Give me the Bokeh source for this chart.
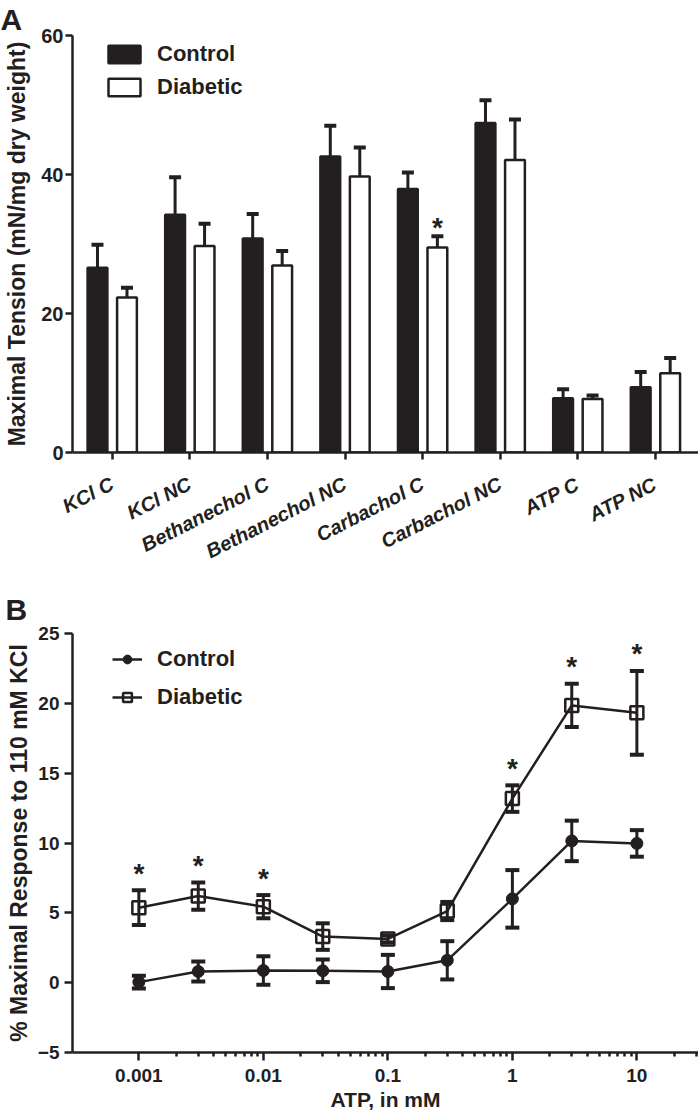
import math
from bokeh.plotting import figure
from bokeh.layouts import column
from bokeh.models import (Range1d, FixedTicker, Whisker, TeeHead, ColumnDataSource,
                          Legend, LegendItem, Title, CustomJSTickFormatter)
from bokeh.embed import file_html
from bokeh.resources import INLINE

INK = "#231f20"
FONT = "Liberation Sans"

# ---------------- Panel A data ----------------
categories = ["KCl C", "KCl NC", "Bethanechol C", "Bethanechol NC",
              "Carbachol C", "Carbachol NC", "ATP C", "ATP NC"]
control_mean = [26.6, 34.2, 30.8, 42.6, 37.9, 47.4, 7.8, 9.4]
control_sem = [3.3, 5.4, 3.5, 4.4, 2.4, 3.3, 1.3, 2.2]
diabetic_mean = [22.3, 29.7, 26.9, 39.7, 29.5, 42.1, 7.7, 11.4]
diabetic_sem = [1.4, 3.2, 2.1, 4.2, 1.6, 5.8, 0.5, 2.2]
diabetic_sig_a = [False, False, False, False, True, False, False, False]
tension_ticks = [0, 20, 40, 60]

# ---------------- Panel B data ----------------
atp_mM = [0.001, 0.003, 0.01, 0.03, 0.1, 0.3, 1, 3, 10]
control_resp = [0.04, 0.8, 0.87, 0.85, 0.8, 1.6, 6.0, 10.15, 9.97]
control_resp_sem = [0.45, 0.71, 1.02, 0.81, 1.19, 1.37, 2.06, 1.45, 0.95]
diabetic_resp = [5.37, 6.2, 5.44, 3.3, 3.13, 5.13, 13.18, 19.85, 19.32]
diabetic_resp_sem = [1.24, 0.98, 0.83, 0.95, 0.25, 0.65, 0.95, 1.55, 3.0]
diabetic_sig_b = [True, True, True, False, False, False, True, True, True]
atp_major_ticks = [0.001, 0.01, 0.1, 1, 10]
response_ticks = [-5, 0, 5, 10, 15, 20, 25]

W = 698
HA = 580
HB = 536


def style_axes(p, tick_font):
    p.outline_line_color = None
    p.xgrid.visible = False
    p.ygrid.visible = False
    p.background_fill_color = "white"
    p.border_fill_color = "white"
    for ax in (p.xaxis[0], p.yaxis[0]):
        ax.axis_line_color = INK
        ax.axis_line_width = 2.5
        ax.major_tick_line_color = INK
        ax.major_tick_line_width = 2.5
        ax.major_tick_in = 0
        ax.major_tick_out = 7
        ax.minor_tick_line_color = INK
        ax.minor_tick_line_width = 2.5
        ax.minor_tick_in = 0
        ax.minor_tick_out = 4
        ax.major_label_text_font = FONT
        ax.major_label_text_font_style = "bold"
        ax.major_label_text_font_size = tick_font
        ax.major_label_text_color = INK
        ax.axis_label_text_font = FONT
        ax.axis_label_text_font_style = "bold"
        ax.axis_label_text_color = INK


def panel_letter(letter, offset, standoff):
    return Title(text=letter, align="left", offset=offset, standoff=standoff,
                 text_font=FONT, text_font_style="bold", text_font_size="30px",
                 text_color=INK)


# ================= Panel A =================
pa = figure(width=W, height=HA, x_range=Range1d(-0.012, 8.055), y_range=Range1d(0, 60),
            output_backend="svg", toolbar_location=None,
            title=panel_letter("A", -72, 0),
            min_border_left=72, min_border_right=0, min_border_top=35, min_border_bottom=128)
style_axes(pa, "20px")

idx = list(range(len(categories)))
ctrl_x = [i + 0.5 - 0.19 for i in idx]
diab_x = [i + 0.5 + 0.19 for i in idx]

src_c = ColumnDataSource(dict(x=ctrl_x, top=control_mean,
                              upper=[m + s for m, s in zip(control_mean, control_sem)]))
src_d = ColumnDataSource(dict(x=diab_x, top=diabetic_mean,
                              upper=[m + s for m, s in zip(diabetic_mean, diabetic_sem)]))

for src in (src_c, src_d):
    pa.add_layout(Whisker(source=src, base="x", lower="top", upper="upper",
                          line_color=INK, line_width=3,
                          upper_head=TeeHead(size=12, line_width=4, line_color=INK),
                          lower_head=None))

r_c = pa.vbar(x="x", top="top", bottom=0, width=0.255, source=src_c,
              fill_color=INK, line_color=INK, line_width=2.5)
r_d = pa.vbar(x="x", top="top", bottom=0, width=0.255, source=src_d,
              fill_color="white", line_color=INK, line_width=2.5)

sig_a = ColumnDataSource(dict(
    x=[diab_x[i] for i in idx if diabetic_sig_a[i]],
    y=[diabetic_mean[i] + diabetic_sem[i] for i in idx if diabetic_sig_a[i]],
    t=["*" for i in idx if diabetic_sig_a[i]]))
pa.text(x="x", y="y", text="t", source=sig_a, text_align="center", text_baseline="middle",
        y_offset=-9, text_font_size="28px", text_font_style="bold", text_color=INK,
        text_font={"value": FONT})

pa.xaxis.ticker = FixedTicker(ticks=[i + 0.5 for i in idx])
pa.xaxis.major_label_overrides = {i + 0.5: c for i, c in zip(idx, categories)}
pa.xaxis.major_label_orientation = math.radians(27)
pa.xaxis.major_label_text_font_style = "bold italic"
pa.xaxis.major_label_standoff = 23
pa.yaxis.ticker = FixedTicker(ticks=tension_ticks)
pa.yaxis.major_label_standoff = 2
pa.yaxis.axis_label = "Maximal Tension (mN/mg dry weight)"
pa.yaxis.axis_label_text_font_size = "23px"
pa.yaxis.axis_label_standoff = 8

legA = Legend(items=[LegendItem(label="Control", renderers=[r_c]),
                     LegendItem(label="Diabetic", renderers=[r_d])],
              location=(32, 352), padding=0, margin=0, spacing=7,
              glyph_width=40, glyph_height=22, label_standoff=13,
              border_line_color=None, background_fill_alpha=0,
              label_text_font=FONT, label_text_font_style="bold",
              label_text_font_size="22px", label_text_color=INK)
pa.add_layout(legA)

# ================= Panel B =================
pb = figure(width=W, height=HB, x_axis_type="log",
            x_range=Range1d(10 ** -3.533, 10 ** 1.495), y_range=Range1d(-5, 25),
            output_backend="svg", toolbar_location=None,
            title=panel_letter("B", -67, 15),
            min_border_left=68, min_border_right=0, min_border_top=53, min_border_bottom=64)
style_axes(pb, "19px")

src_bc = ColumnDataSource(dict(x=atp_mM, y=control_resp,
                               lo=[m - s for m, s in zip(control_resp, control_resp_sem)],
                               hi=[m + s for m, s in zip(control_resp, control_resp_sem)]))
src_bd = ColumnDataSource(dict(x=atp_mM, y=diabetic_resp,
                               lo=[m - s for m, s in zip(diabetic_resp, diabetic_resp_sem)],
                               hi=[m + s for m, s in zip(diabetic_resp, diabetic_resp_sem)]))

for src in (src_bc, src_bd):
    pb.add_layout(Whisker(source=src, base="x", lower="lo", upper="hi",
                          line_color=INK, line_width=3,
                          upper_head=TeeHead(size=14, line_width=4, line_color=INK),
                          lower_head=TeeHead(size=14, line_width=4, line_color=INK)))

l_c = pb.line(x="x", y="y", source=src_bc, line_color=INK, line_width=2.5)
l_d = pb.line(x="x", y="y", source=src_bd, line_color=INK, line_width=2.5)
m_c = pb.scatter(x="x", y="y", source=src_bc, marker="circle", size=12,
                 fill_color=INK, line_color=INK, line_width=1)
m_d = pb.scatter(x="x", y="y", source=src_bd, marker="square", size=13,
                 fill_color=None, line_color=INK, line_width=2.5)

nb = list(range(len(atp_mM)))
sig_b = ColumnDataSource(dict(
    x=[atp_mM[i] for i in nb if diabetic_sig_b[i]],
    y=[diabetic_resp[i] + diabetic_resp_sem[i] for i in nb if diabetic_sig_b[i]],
    t=["*" for i in nb if diabetic_sig_b[i]]))
pb.text(x="x", y="y", text="t", source=sig_b, text_align="center", text_baseline="middle",
        y_offset=-17, text_font_size="28px", text_font_style="bold", text_color=INK,
        text_font={"value": FONT})

minor = [m * 10.0 ** e for e in range(-3, 2) for m in range(2, 10) if m * 10.0 ** e <= 31]
pb.xaxis.ticker = FixedTicker(ticks=atp_major_ticks, minor_ticks=minor)
pb.xaxis.formatter = CustomJSTickFormatter(code="return tick.toString();")
pb.xaxis.major_tick_out = 8
pb.xaxis.major_label_standoff = 8
pb.xaxis.axis_label = "ATP, in mM"
pb.xaxis.axis_label_text_font_size = "21px"
pb.xaxis.axis_label_standoff = 3
pb.yaxis.ticker = FixedTicker(ticks=response_ticks)
pb.yaxis.major_tick_out = 8
pb.yaxis.major_label_standoff = 5
pb.yaxis.axis_label = "% Maximal Response to 110 mM KCl"
pb.yaxis.axis_label_text_font_size = "23px"
pb.yaxis.axis_label_standoff = 3

legB = Legend(items=[LegendItem(label="Control", renderers=[l_c, m_c]),
                     LegendItem(label="Diabetic", renderers=[l_d, m_d])],
              location=(40, 342), padding=0, margin=0, spacing=12,
              glyph_width=30, glyph_height=22, label_standoff=15,
              border_line_color=None, background_fill_alpha=0,
              label_text_font=FONT, label_text_font_style="bold",
              label_text_font_size="22px", label_text_color=INK)
pb.add_layout(legB)

layout = column(pa, pb, spacing=0)
open("out.html", "w").write(file_html(layout, INLINE))
